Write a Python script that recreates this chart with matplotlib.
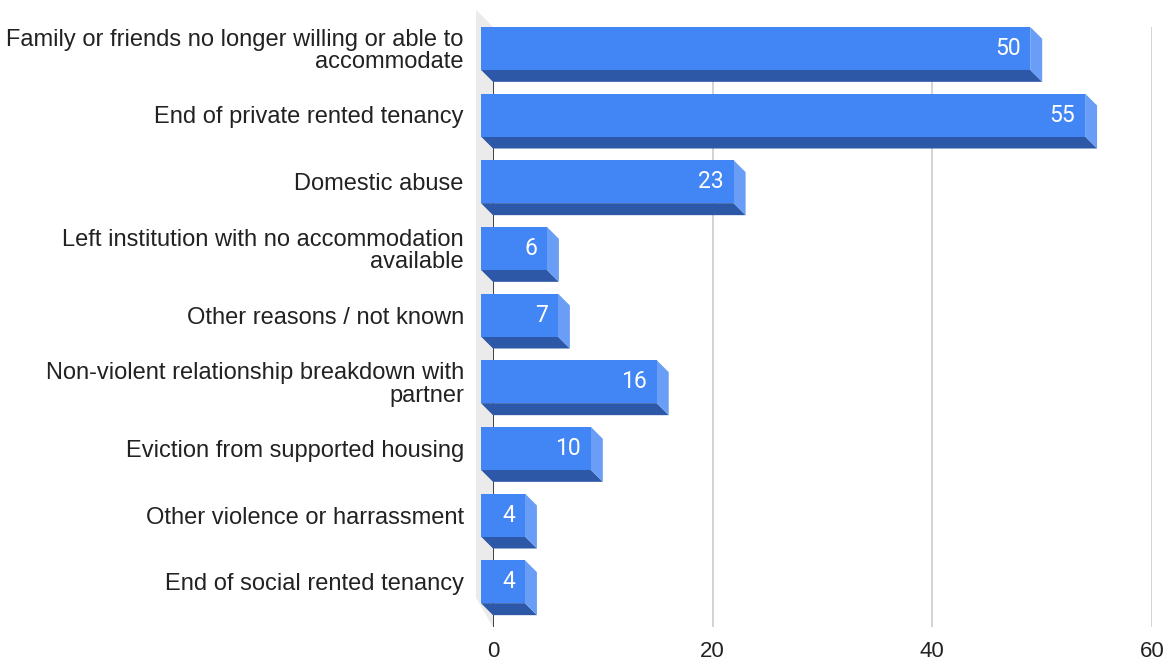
import matplotlib
matplotlib.use("Agg")
import matplotlib.pyplot as plt
from matplotlib.patches import Polygon

plt.rcParams["font.family"] = ["Liberation Sans", "DejaVu Sans"]

# data
categories = [
    "Family or friends no longer willing or able to\naccommodate",
    "End of private rented tenancy",
    "Domestic abuse",
    "Left institution with no accommodation\navailable",
    "Other reasons / not known",
    "Non-violent relationship breakdown with\npartner",
    "Eviction from supported housing",
    "Other violence or harrassment",
    "End of social rented tenancy",
]
values = [50, 55, 23, 6, 7, 16, 10, 4, 4]
xticks = [0, 20, 40, 60]

# colours
front_col = "#4285f4"
bottom_col = "#2d58a7"
side_col = "#6a9ef6"
wall_col = "#ebebeb"

W, H = 1169, 663
fig = plt.figure(figsize=(W / 100, H / 100), dpi=100)
# axes in pixel terms: x 493..1152, y 27..627 (from top)
ax = fig.add_axes([493 / W, 1 - 627 / H, (1152 - 493) / W, (627 - 27) / H])
ax.set_xlim(0, 60)
ax.set_ylim(len(categories) - 0.5, -0.5)

px_x = 60 / (1152 - 493)          # data units per pixel in x
px_y = len(categories) / (627 - 27)  # rows per pixel in y
dx = 12 * px_x
dy = 12 * px_y
h = 43 * px_y

# grey side wall
wx = 17 * px_x
wy = 16 * px_y
wall = Polygon([(-wx, -0.5 - wy - 0.02), (0, -0.5), (0, len(categories) - 0.5),
                (-wx, len(categories) - 0.5 - wy - 0.2)],
               closed=True, facecolor=wall_col, edgecolor="none", clip_on=False, zorder=0)
ax.add_patch(wall)

for t in xticks[1:]:
    ax.axvline(t, color="#cccccc", lw=1.2, zorder=1)
ax.axvline(0, color="#333333", lw=1.3, zorder=1)

ypos = list(range(len(categories)))
front_y = [y - dy for y in ypos]
ax.barh(front_y, values, height=h, left=-dx, color=front_col, zorder=3, clip_on=False)

for y, v in zip(ypos, values):
    fy = y - dy
    bottom = Polygon([(-dx, fy + h / 2), (v - dx, fy + h / 2), (v, y + h / 2), (0, y + h / 2)],
                     closed=True, facecolor=bottom_col, edgecolor="none", zorder=2, clip_on=False)
    side = Polygon([(v - dx, fy - h / 2), (v, y - h / 2), (v, y + h / 2), (v - dx, fy + h / 2)],
                   closed=True, facecolor=side_col, edgecolor="none", zorder=2, clip_on=False)
    ax.add_patch(bottom)
    ax.add_patch(side)
    ax.annotate(str(v), (v - dx, fy), xytext=(-7, 0), textcoords="offset points",
                ha="right", va="center", color="white", fontsize=16.5,
                family=["Roboto", "DejaVu Sans"], zorder=4)

ax.set_yticks(front_y)
ax.set_yticklabels(categories, fontsize=17, color="#222222", linespacing=1.02)
ax.tick_params(axis="y", length=0, pad=21)
ax.set_xticks(xticks)
ax.set_xticklabels([str(t) for t in xticks], fontsize=16, color="#222222")
ax.tick_params(axis="x", length=0, pad=10)
for s in ax.spines.values():
    s.set_visible(False)

plt.savefig("out.png", dpi=100)
plt.close("all")
